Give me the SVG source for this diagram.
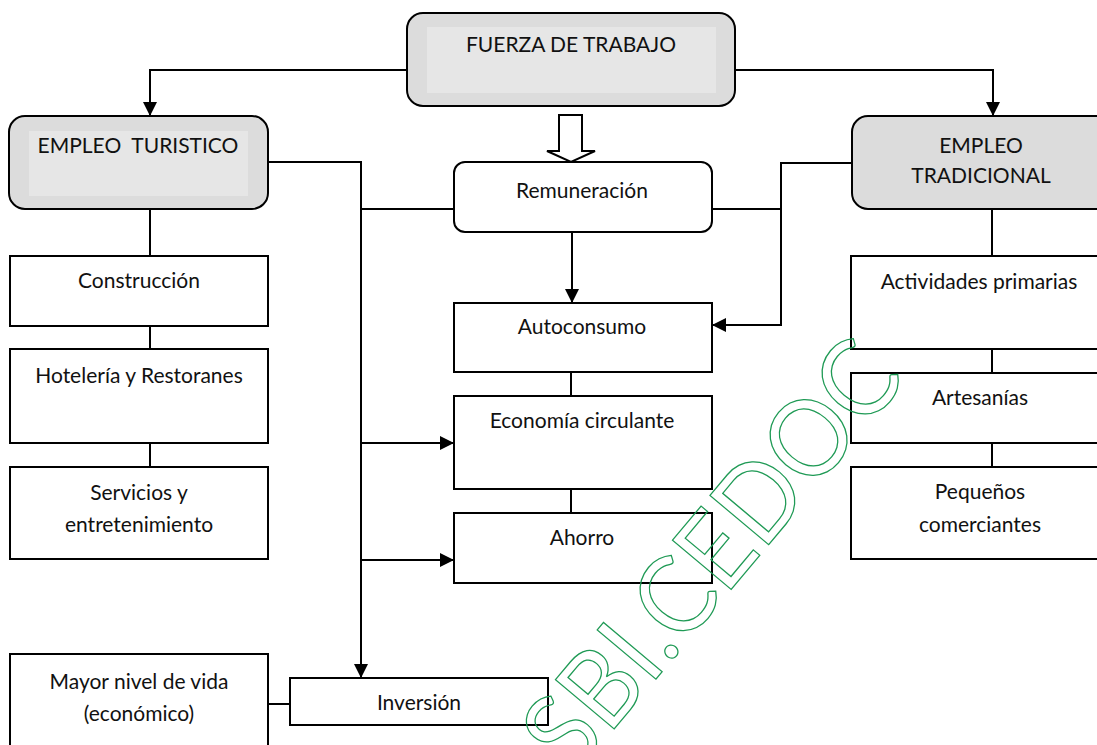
<svg xmlns="http://www.w3.org/2000/svg" width="1097" height="745" viewBox="0 0 1097 745">
<style>
.box{fill:#fff;stroke:#000;stroke-width:2}
.gray{fill:#dcdcdc;stroke:#000;stroke-width:2}
.inner{fill:#e6e6e6;stroke:none}
.t{font-family:Lato,"Liberation Sans",sans-serif;font-size:21px;fill:#111;text-anchor:middle}
.c{fill:none;stroke:#000;stroke-width:2}
.wm{font-family:Lato,"Liberation Sans",sans-serif;font-size:107px;fill:none;stroke:#1f9a55;stroke-width:1.3}
</style>
<defs>
<marker id="ah" markerUnits="userSpaceOnUse" viewBox="0 0 14 14" refX="14" refY="7" markerWidth="14" markerHeight="14" orient="auto">
<path d="M0,0 L14,7 L0,14 z" fill="#000"/>
</marker>
</defs>
<rect width="1097" height="745" fill="#fff"/>
<g id="connectors">
<path class="c" d="M407,70 H150 V116" marker-end="url(#ah)"/>
<path class="c" d="M735,70 H993 V116" marker-end="url(#ah)"/>
<path class="c" d="M150,209 V256 M150,326 V349 M150,443 V467"/>
<path class="c" d="M992,209 V256 M992,349 V373 M992,443 V467"/>
<path class="c" d="M268,162 H361 V678" marker-end="url(#ah)"/>
<path class="c" d="M361,209 H454"/>
<path class="c" d="M361,443 H454" marker-end="url(#ah)"/>
<path class="c" d="M361,560 H454" marker-end="url(#ah)"/>
<path class="c" d="M572,232 V303" marker-end="url(#ah)"/>
<path class="c" d="M571,372 V396 M571,489 V513"/>
<path class="c" d="M712,209 H781"/>
<path class="c" d="M852,163 H781 V325 H712" marker-end="url(#ah)"/>
<path class="c" d="M268,704 H290"/>
<polygon points="559,115 582,115 582,151 595,151 571,162 547,151 559,151" fill="#fff" stroke="#000" stroke-width="2"/>
</g>
<g id="fuerza">
<rect class="gray" x="407" y="13" width="328" height="93" rx="16"/>
<rect class="inner" x="427" y="27" width="289" height="66"/>
<text class="t" x="571" y="52">FUERZA DE TRABAJO</text>
</g>
<g id="empleo-turistico">
<rect class="gray" x="9" y="116" width="259" height="93" rx="16"/>
<rect class="inner" x="29" y="131" width="219" height="65"/>
<text class="t" x="138" y="153" xml:space="preserve">EMPLEO  TURISTICO</text>
</g>
<g id="empleo-tradicional">
<rect class="gray" x="852" y="116" width="282" height="93" rx="16"/>
<text class="t" x="981" y="153">EMPLEO</text>
<text class="t" x="981" y="183">TRADICIONAL</text>
</g>
<g id="remuneracion">
<rect class="box" x="454" y="162" width="258" height="70" rx="11"/>
<text class="t" x="582" y="198">Remuneración</text>
</g>
<g id="autoconsumo">
<rect class="box" x="454" y="303" width="258" height="69"/>
<text class="t" x="582" y="334">Autoconsumo</text>
</g>
<g id="economia">
<rect class="box" x="454" y="396" width="258" height="93"/>
<text class="t" x="582" y="428">Economía circulante</text>
</g>
<g id="ahorro">
<rect class="box" x="454" y="513" width="258" height="70"/>
<text class="t" x="582" y="545">Ahorro</text>
</g>
<g id="construccion">
<rect class="box" x="10" y="256" width="258" height="70"/>
<text class="t" x="139" y="288">Construcción</text>
</g>
<g id="hoteleria">
<rect class="box" x="10" y="349" width="258" height="94"/>
<text class="t" x="139" y="383">Hotelería y Restoranes</text>
</g>
<g id="servicios">
<rect class="box" x="10" y="467" width="258" height="92"/>
<text class="t" x="139" y="500">Servicios y</text>
<text class="t" x="139" y="532">entretenimiento</text>
</g>
<g id="actividades">
<rect class="box" x="851" y="256" width="284" height="93"/>
<text class="t" x="979" y="289">Actividades primarias</text>
</g>
<g id="artesanias">
<rect class="box" x="851" y="373" width="284" height="70"/>
<text class="t" x="980" y="405">Artesanías</text>
</g>
<g id="pequenos">
<rect class="box" x="851" y="467" width="284" height="92"/>
<text class="t" x="980" y="499">Pequeños</text>
<text class="t" x="980" y="532">comerciantes</text>
</g>
<g id="mayor-nivel">
<rect class="box" x="10" y="654" width="258" height="110"/>
<text class="t" x="139" y="689">Mayor nivel de vida</text>
<text class="t" x="139" y="721">(económico)</text>
</g>
<g id="inversion">
<rect class="box" x="290" y="678" width="258" height="47"/>
<text class="t" x="419" y="710">Inversión</text>
</g>
<g id="watermark">
<text class="wm" transform="translate(573,778) rotate(-50)" textLength="520" lengthAdjust="spacingAndGlyphs">SBI.CEDOC</text>
</g>
</svg>
